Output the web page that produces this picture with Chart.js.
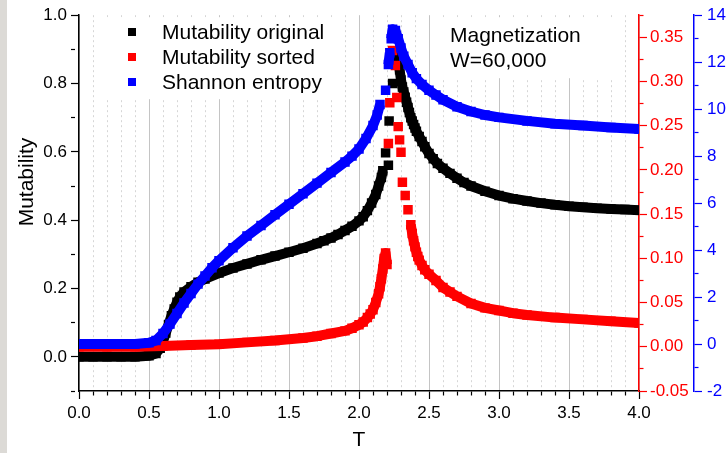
<!DOCTYPE html>
<html>
<head>
<meta charset="utf-8">
<script src="https://cdn.jsdelivr.net/npm/chart.js@4.4.1/dist/chart.umd.min.js"></script>
<style>
  html, body { margin: 0; padding: 0; }
  body {
    width: 728px;
    height: 453px;
    overflow: hidden;
    background: linear-gradient(to right, #dcdad6 0, #dcdad6 7px, #fff 7px);
  }
  canvas { display: block; }
</style>
</head>
<body>
<canvas id="chart" width="728" height="453"></canvas>
<script>
const seriesLabels = ['Mutability original', 'Mutability sorted', 'Shannon entropy'];
const seriesColors = ['#000000', '#ff0000', '#0000ff'];
const noteLines = ['Magnetization', 'W=60,000'];
const xTitle = 'T';
const yTitle = 'Mutability';

// Mutability original (left axis)
const tOriginal = [0, 0.1, 0.2, 0.3, 0.4, 0.5, 0.55, 0.58, 0.6, 0.62, 0.64, 0.66, 0.68, 0.7,
  0.72, 0.75, 0.8, 0.85, 0.9, 1.0, 1.1, 1.2, 1.3, 1.4, 1.5, 1.6, 1.7, 1.75, 1.8, 1.85, 1.9,
  1.95, 2.0, 2.03, 2.06, 2.09, 2.12, 2.14, 2.16, 2.17, 2.19, 2.21, 2.215, 2.24, 2.27, 2.28,
  2.29, 2.3, 2.31, 2.32, 2.33, 2.34, 2.35, 2.36, 2.37, 2.38, 2.39, 2.4, 2.41, 2.43, 2.45,
  2.47, 2.5, 2.53, 2.56, 2.6, 2.65, 2.7, 2.75, 2.8, 2.9, 3.0, 3.1, 3.2, 3.3, 3.4, 3.5, 3.6,
  3.7, 3.8, 3.9, 4.0];
const mutOriginal = [0, 0, 0, 0, 0, 0.003, 0.01, 0.025, 0.045, 0.07, 0.095, 0.12, 0.14, 0.16,
  0.175, 0.19, 0.205, 0.218, 0.228, 0.245, 0.26, 0.272, 0.284, 0.295, 0.306, 0.318, 0.332,
  0.34, 0.348, 0.358, 0.37, 0.382, 0.398, 0.41, 0.428, 0.45, 0.475, 0.5, 0.525, 0.545, 0.597,
  0.561, 0.69, 0.80, 0.883, 0.87, 0.84, 0.81, 0.79, 0.775, 0.76, 0.745, 0.73, 0.715, 0.70,
  0.69, 0.68, 0.67, 0.66, 0.645, 0.63, 0.615, 0.595, 0.58, 0.566, 0.552, 0.537, 0.523, 0.51,
  0.5, 0.485, 0.472, 0.463, 0.456, 0.45, 0.445, 0.441, 0.438, 0.435, 0.433, 0.431, 0.429];

// Mutability sorted (red right axis)
const tSorted = [0, 0.2, 0.4, 0.6, 0.8, 1.0, 1.2, 1.4, 1.6, 1.7, 1.8, 1.9, 1.95, 2.0, 2.03,
  2.06, 2.08, 2.1, 2.12, 2.14, 2.15, 2.16, 2.17, 2.18, 2.19, 2.2, 2.21, 2.22, 2.24, 2.26,
  2.27, 2.28, 2.29, 2.3, 2.31, 2.33, 2.35, 2.37, 2.38, 2.39, 2.4, 2.41, 2.42, 2.43, 2.45,
  2.47, 2.5, 2.55, 2.6, 2.65, 2.7, 2.8, 2.9, 3.0, 3.1, 3.2, 3.4, 3.6, 3.8, 4.0];
const mutSorted = [0, 0, 0, 0.001, 0.002, 0.003, 0.005, 0.007, 0.01, 0.012, 0.015, 0.018,
  0.021, 0.025, 0.028, 0.033, 0.037, 0.042, 0.05, 0.06, 0.068, 0.077, 0.088, 0.1, 0.106,
  0.093, 0.23, 0.276, 0.335, 0.318, 0.282, 0.249, 0.234, 0.22, 0.186, 0.171, 0.155, 0.138,
  0.128, 0.12, 0.113, 0.107, 0.102, 0.098, 0.092, 0.087, 0.082, 0.075, 0.067, 0.062, 0.057,
  0.049, 0.044, 0.041, 0.038, 0.036, 0.033, 0.031, 0.029, 0.027];

// Shannon entropy (blue right axis)
const tEntropy = [0, 0.1, 0.2, 0.3, 0.4, 0.5, 0.55, 0.6, 0.65, 0.7, 0.75, 0.8, 0.85, 0.9, 0.95,
  1.0, 1.1, 1.2, 1.3, 1.4, 1.5, 1.6, 1.7, 1.8, 1.9, 1.95, 2.0, 2.05, 2.1, 2.13, 2.15, 2.19,
  2.21, 2.22, 2.23, 2.24, 2.26, 2.28, 2.3, 2.32, 2.35, 2.38, 2.41, 2.45, 2.5, 2.55, 2.6, 2.7,
  2.8, 2.9, 3.0, 3.2, 3.4, 3.6, 3.8, 4.0];
const entropy = [0, 0, 0, 0, 0, 0.05, 0.15, 0.45, 0.85, 1.3, 1.75, 2.15, 2.55, 2.9, 3.25, 3.55,
  4.1, 4.6, 5.05, 5.5, 5.95, 6.4, 6.85, 7.3, 7.75, 8.0, 8.3, 8.75, 9.3, 9.75, 10.2, 10.8,
  11.9, 12.4, 13.0, 13.4, 13.35, 13.0, 12.6, 12.25, 11.9, 11.55, 11.3, 11.05, 10.8, 10.6,
  10.4, 10.1, 9.9, 9.75, 9.65, 9.5, 9.38, 9.3, 9.22, 9.15];

const FONT = '"Liberation Sans", Arial, sans-serif';
Chart.defaults.font.family = FONT;
Chart.defaults.color = '#000';

const BAND = 10;
const isMultiple = (v, step) => Math.abs(v / step - Math.round(v / step)) < 1e-6;
const tickValue = (c) => (c.tick ? c.tick.value : 0);

function toPoints(xs, ys) {
  return xs.map((x, i) => ({ x, y: ys[i] }));
}

// break the band where consecutive markers sit far apart vertically
function isGap(c) {
  const dx = Math.abs(c.p1.x - c.p0.x);
  const dy = Math.abs(c.p1.y - c.p0.y);
  return dy > 12 && dy > 2 * dx;
}

function series(label, xs, ys, color, axis) {
  return {
    label,
    data: toPoints(xs, ys),
    yAxisID: axis,
    showLine: true,
    borderColor: color,
    backgroundColor: color,
    borderWidth: BAND,
    borderJoinStyle: 'round',
    borderCapStyle: 'butt',
    tension: 0,
    pointStyle: 'rect',
    pointRadius: 6.7,
    pointBorderWidth: 0,
    pointBackgroundColor: color,
    clip: 0,
    segment: {
      borderColor: (c) => (isGap(c) ? 'rgba(0,0,0,0)' : color),
      borderWidth: BAND,
    },
  };
}

function axisTicks(major, color) {
  return {
    drawOnChartArea: false,
    tickLength: 8,
    tickColor: color,
    tickWidth: 1.2,
    tickBorderDash: (c) => (isMultiple(tickValue(c), major) ? [] : [4, 30]),
  };
}

const overlay = {
  id: 'overlay',
  beforeDatasetsDraw(chart) {
    const { ctx, chartArea } = chart;
    ctx.save();
    ctx.fillStyle = '#fff';
    ctx.fillRect(100, chartArea.top + 2, 238, 82);
    ctx.fillRect(440, chartArea.top + 2, 180, 61);

    ctx.font = '21px ' + FONT;
    ctx.textBaseline = 'alphabetic';
    seriesLabels.forEach((label, i) => {
      const y = 32 + i * 25;
      ctx.fillStyle = seriesColors[i];
      ctx.fillRect(128, y - 4, 8, 8);
      ctx.fillStyle = '#000';
      ctx.fillText(label, 162, y + 7);
    });
    noteLines.forEach((line, i) => ctx.fillText(line, 450, 42 + i * 25));

    ctx.translate(27, 182);
    ctx.rotate(-Math.PI / 2);
    ctx.textAlign = 'center';
    ctx.textBaseline = 'middle';
    ctx.fillText(yTitle, 0, 0);
    ctx.restore();
  },
};

new Chart(document.getElementById('chart'), {
  type: 'scatter',
  data: {
    datasets: [
      series(seriesLabels[2], tEntropy, entropy, seriesColors[2], 'yB'),
      series(seriesLabels[1], tSorted, mutSorted, seriesColors[1], 'yR'),
      series(seriesLabels[0], tOriginal, mutOriginal, seriesColors[0], 'y'),
    ],
  },
  options: {
    responsive: false,
    animation: false,
    events: [],
    devicePixelRatio: 1,
    layout: { padding: { top: 15, left: 0, right: 0, bottom: 0 } },
    plugins: {
      legend: { display: false },
      tooltip: { enabled: false },
    },
    scales: {
      x: {
        type: 'linear',
        min: 0,
        max: 4,
        afterFit: (s) => { s.height = 62; },
        ticks: {
          stepSize: 0.1,
          autoSkip: false,
          maxRotation: 0,
          padding: 4,
          color: '#000',
          font: { size: 17 },
          callback: (v) => (isMultiple(v, 0.5) ? v.toFixed(1) : ''),
        },
        grid: {
          color: (c) => (isMultiple(tickValue(c), 0.5) ? '#c4c4c4' : '#d6d6d6'),
          lineWidth: 1,
          tickLength: 8,
          tickColor: '#000',
          tickWidth: 1.2,
          tickBorderDash: (c) => (isMultiple(tickValue(c), 0.5) ? [] : [4, 30]),
        },
        border: {
          color: '#000',
          width: 1.5,
          dash: (c) => (c.tick && !isMultiple(c.tick.value, 0.5) ? [2, 3] : []),
        },
        title: {
          display: true,
          text: xTitle,
          color: '#000',
          font: { size: 21 },
          padding: { top: 0, bottom: 0 },
        },
      },
      y: {
        type: 'linear',
        position: 'left',
        min: -0.1,
        max: 1.0,
        afterFit: (s) => { s.width = 79; },
        ticks: {
          stepSize: 0.1,
          autoSkip: false,
          padding: 4,
          color: '#000',
          font: { size: 17 },
          callback: (v) => (v > -0.01 && isMultiple(v, 0.2) ? Math.abs(v).toFixed(1) : ''),
        },
        grid: axisTicks(0.2, '#000'),
        border: { color: '#000', width: 1.5 },
      },
      yR: {
        type: 'linear',
        position: 'right',
        weight: 0,
        min: -0.05,
        max: 0.375,
        afterFit: (s) => { s.width = 55; },
        ticks: {
          stepSize: 0.025,
          autoSkip: false,
          padding: 3,
          color: '#ff0000',
          font: { size: 17 },
          callback: (v) => (isMultiple(v, 0.05) ? (Math.abs(v) < 1e-9 ? 0 : v).toFixed(2) : ''),
        },
        grid: axisTicks(0.05, '#ff0000'),
        border: { color: '#ff0000', width: 1.5 },
      },
      yB: {
        type: 'linear',
        position: 'right',
        weight: 1,
        min: -2,
        max: 14,
        afterFit: (s) => { s.width = 34; },
        ticks: {
          stepSize: 1,
          autoSkip: false,
          padding: 5,
          color: '#0000ff',
          font: { size: 17 },
          callback: (v) => (isMultiple(v, 2) ? String(Math.round(v)) : ''),
        },
        grid: axisTicks(2, '#0000ff'),
        border: { color: '#0000ff', width: 1.5 },
      },
    },
  },
  plugins: [overlay],
});
</script>
</body>
</html>
